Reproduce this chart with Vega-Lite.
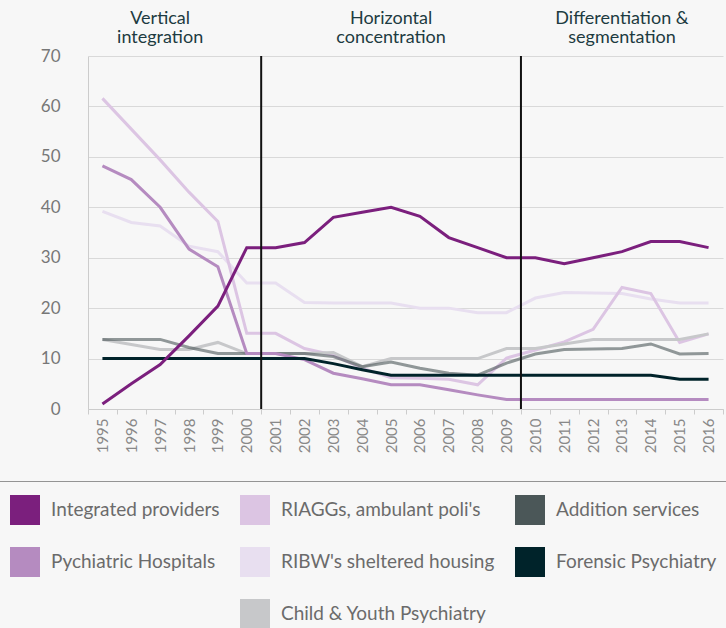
{
  "$schema": "https://vega.github.io/schema/vega-lite/v6.json",
  "width": 635,
  "height": 353,
  "autosize": "none",
  "padding": {"left": 88, "top": 56, "right": 3, "bottom": 219},
  "background": "#f7f7f7",
  "config": {"view": {"stroke": null}, "font": "Lato"},
  "datasets": {
    "series": [
      {"series": "RIBW's sheltered housing", "year": "1995", "value": 39.2},
      {"series": "RIBW's sheltered housing", "year": "1996", "value": 37},
      {"series": "RIBW's sheltered housing", "year": "1997", "value": 36.3},
      {"series": "RIBW's sheltered housing", "year": "1998", "value": 32.3},
      {"series": "RIBW's sheltered housing", "year": "1999", "value": 31.2},
      {"series": "RIBW's sheltered housing", "year": "2000", "value": 25},
      {"series": "RIBW's sheltered housing", "year": "2001", "value": 25},
      {"series": "RIBW's sheltered housing", "year": "2002", "value": 21.1},
      {"series": "RIBW's sheltered housing", "year": "2003", "value": 21},
      {"series": "RIBW's sheltered housing", "year": "2004", "value": 21},
      {"series": "RIBW's sheltered housing", "year": "2005", "value": 21},
      {"series": "RIBW's sheltered housing", "year": "2006", "value": 20},
      {"series": "RIBW's sheltered housing", "year": "2007", "value": 20},
      {"series": "RIBW's sheltered housing", "year": "2008", "value": 19.1},
      {"series": "RIBW's sheltered housing", "year": "2009", "value": 19.1},
      {"series": "RIBW's sheltered housing", "year": "2010", "value": 22},
      {"series": "RIBW's sheltered housing", "year": "2011", "value": 23.1},
      {"series": "RIBW's sheltered housing", "year": "2012", "value": 23},
      {"series": "RIBW's sheltered housing", "year": "2013", "value": 22.9},
      {"series": "RIBW's sheltered housing", "year": "2014", "value": 21.8},
      {"series": "RIBW's sheltered housing", "year": "2015", "value": 21},
      {"series": "RIBW's sheltered housing", "year": "2016", "value": 21},
      {"series": "RIAGGs, ambulant poli's", "year": "1995", "value": 61.6},
      {"series": "RIAGGs, ambulant poli's", "year": "1996", "value": 55.5},
      {"series": "RIAGGs, ambulant poli's", "year": "1997", "value": 49.4},
      {"series": "RIAGGs, ambulant poli's", "year": "1998", "value": 43},
      {"series": "RIAGGs, ambulant poli's", "year": "1999", "value": 37.2},
      {"series": "RIAGGs, ambulant poli's", "year": "2000", "value": 15},
      {"series": "RIAGGs, ambulant poli's", "year": "2001", "value": 15},
      {"series": "RIAGGs, ambulant poli's", "year": "2002", "value": 12},
      {"series": "RIAGGs, ambulant poli's", "year": "2003", "value": 10.7},
      {"series": "RIAGGs, ambulant poli's", "year": "2004", "value": 8.1},
      {"series": "RIAGGs, ambulant poli's", "year": "2005", "value": 6.2},
      {"series": "RIAGGs, ambulant poli's", "year": "2006", "value": 6.1},
      {"series": "RIAGGs, ambulant poli's", "year": "2007", "value": 5.9},
      {"series": "RIAGGs, ambulant poli's", "year": "2008", "value": 4.8},
      {"series": "RIAGGs, ambulant poli's", "year": "2009", "value": 10.1},
      {"series": "RIAGGs, ambulant poli's", "year": "2010", "value": 11.7},
      {"series": "RIAGGs, ambulant poli's", "year": "2011", "value": 13.3},
      {"series": "RIAGGs, ambulant poli's", "year": "2012", "value": 15.8},
      {"series": "RIAGGs, ambulant poli's", "year": "2013", "value": 24.1},
      {"series": "RIAGGs, ambulant poli's", "year": "2014", "value": 22.9},
      {"series": "RIAGGs, ambulant poli's", "year": "2015", "value": 13.2},
      {"series": "RIAGGs, ambulant poli's", "year": "2016", "value": 14.9},
      {"series": "Child & Youth Psychiatry", "year": "1995", "value": 13.8},
      {"series": "Child & Youth Psychiatry", "year": "1996", "value": 12.8},
      {"series": "Child & Youth Psychiatry", "year": "1997", "value": 11.8},
      {"series": "Child & Youth Psychiatry", "year": "1998", "value": 11.8},
      {"series": "Child & Youth Psychiatry", "year": "1999", "value": 13.2},
      {"series": "Child & Youth Psychiatry", "year": "2000", "value": 11},
      {"series": "Child & Youth Psychiatry", "year": "2001", "value": 11},
      {"series": "Child & Youth Psychiatry", "year": "2002", "value": 11},
      {"series": "Child & Youth Psychiatry", "year": "2003", "value": 11.2},
      {"series": "Child & Youth Psychiatry", "year": "2004", "value": 8.4},
      {"series": "Child & Youth Psychiatry", "year": "2005", "value": 10},
      {"series": "Child & Youth Psychiatry", "year": "2006", "value": 10},
      {"series": "Child & Youth Psychiatry", "year": "2007", "value": 10},
      {"series": "Child & Youth Psychiatry", "year": "2008", "value": 10},
      {"series": "Child & Youth Psychiatry", "year": "2009", "value": 12},
      {"series": "Child & Youth Psychiatry", "year": "2010", "value": 12},
      {"series": "Child & Youth Psychiatry", "year": "2011", "value": 12.9},
      {"series": "Child & Youth Psychiatry", "year": "2012", "value": 13.8},
      {"series": "Child & Youth Psychiatry", "year": "2013", "value": 13.8},
      {"series": "Child & Youth Psychiatry", "year": "2014", "value": 13.8},
      {"series": "Child & Youth Psychiatry", "year": "2015", "value": 13.8},
      {"series": "Child & Youth Psychiatry", "year": "2016", "value": 14.9},
      {"series": "Addition services", "year": "1995", "value": 13.8},
      {"series": "Addition services", "year": "1996", "value": 13.8},
      {"series": "Addition services", "year": "1997", "value": 13.8},
      {"series": "Addition services", "year": "1998", "value": 12.2},
      {"series": "Addition services", "year": "1999", "value": 11},
      {"series": "Addition services", "year": "2000", "value": 11},
      {"series": "Addition services", "year": "2001", "value": 11},
      {"series": "Addition services", "year": "2002", "value": 11},
      {"series": "Addition services", "year": "2003", "value": 10.4},
      {"series": "Addition services", "year": "2004", "value": 8.4},
      {"series": "Addition services", "year": "2005", "value": 9.3},
      {"series": "Addition services", "year": "2006", "value": 8.1},
      {"series": "Addition services", "year": "2007", "value": 7.1},
      {"series": "Addition services", "year": "2008", "value": 6.7},
      {"series": "Addition services", "year": "2009", "value": 9.1},
      {"series": "Addition services", "year": "2010", "value": 10.9},
      {"series": "Addition services", "year": "2011", "value": 11.8},
      {"series": "Addition services", "year": "2012", "value": 11.9},
      {"series": "Addition services", "year": "2013", "value": 12},
      {"series": "Addition services", "year": "2014", "value": 12.9},
      {"series": "Addition services", "year": "2015", "value": 10.9},
      {"series": "Addition services", "year": "2016", "value": 11},
      {"series": "Pychiatric Hospitals", "year": "1995", "value": 48.2},
      {"series": "Pychiatric Hospitals", "year": "1996", "value": 45.5},
      {"series": "Pychiatric Hospitals", "year": "1997", "value": 40},
      {"series": "Pychiatric Hospitals", "year": "1998", "value": 31.7},
      {"series": "Pychiatric Hospitals", "year": "1999", "value": 28.2},
      {"series": "Pychiatric Hospitals", "year": "2000", "value": 11},
      {"series": "Pychiatric Hospitals", "year": "2001", "value": 11},
      {"series": "Pychiatric Hospitals", "year": "2002", "value": 9.8},
      {"series": "Pychiatric Hospitals", "year": "2003", "value": 7.1},
      {"series": "Pychiatric Hospitals", "year": "2004", "value": 6},
      {"series": "Pychiatric Hospitals", "year": "2005", "value": 4.8},
      {"series": "Pychiatric Hospitals", "year": "2006", "value": 4.8},
      {"series": "Pychiatric Hospitals", "year": "2007", "value": 3.8},
      {"series": "Pychiatric Hospitals", "year": "2008", "value": 2.8},
      {"series": "Pychiatric Hospitals", "year": "2009", "value": 1.9},
      {"series": "Pychiatric Hospitals", "year": "2010", "value": 1.9},
      {"series": "Pychiatric Hospitals", "year": "2011", "value": 1.9},
      {"series": "Pychiatric Hospitals", "year": "2012", "value": 1.9},
      {"series": "Pychiatric Hospitals", "year": "2013", "value": 1.9},
      {"series": "Pychiatric Hospitals", "year": "2014", "value": 1.9},
      {"series": "Pychiatric Hospitals", "year": "2015", "value": 1.9},
      {"series": "Pychiatric Hospitals", "year": "2016", "value": 1.9},
      {"series": "Forensic Psychiatry", "year": "1995", "value": 10},
      {"series": "Forensic Psychiatry", "year": "1996", "value": 10},
      {"series": "Forensic Psychiatry", "year": "1997", "value": 10},
      {"series": "Forensic Psychiatry", "year": "1998", "value": 10},
      {"series": "Forensic Psychiatry", "year": "1999", "value": 10},
      {"series": "Forensic Psychiatry", "year": "2000", "value": 10},
      {"series": "Forensic Psychiatry", "year": "2001", "value": 10},
      {"series": "Forensic Psychiatry", "year": "2002", "value": 10},
      {"series": "Forensic Psychiatry", "year": "2003", "value": 9},
      {"series": "Forensic Psychiatry", "year": "2004", "value": 7.8},
      {"series": "Forensic Psychiatry", "year": "2005", "value": 6.7},
      {"series": "Forensic Psychiatry", "year": "2006", "value": 6.7},
      {"series": "Forensic Psychiatry", "year": "2007", "value": 6.7},
      {"series": "Forensic Psychiatry", "year": "2008", "value": 6.7},
      {"series": "Forensic Psychiatry", "year": "2009", "value": 6.7},
      {"series": "Forensic Psychiatry", "year": "2010", "value": 6.7},
      {"series": "Forensic Psychiatry", "year": "2011", "value": 6.7},
      {"series": "Forensic Psychiatry", "year": "2012", "value": 6.7},
      {"series": "Forensic Psychiatry", "year": "2013", "value": 6.7},
      {"series": "Forensic Psychiatry", "year": "2014", "value": 6.7},
      {"series": "Forensic Psychiatry", "year": "2015", "value": 5.9},
      {"series": "Forensic Psychiatry", "year": "2016", "value": 5.9},
      {"series": "Integrated providers", "year": "1995", "value": 1},
      {"series": "Integrated providers", "year": "1996", "value": 5},
      {"series": "Integrated providers", "year": "1997", "value": 8.8},
      {"series": "Integrated providers", "year": "1998", "value": 14.5},
      {"series": "Integrated providers", "year": "1999", "value": 20.4},
      {"series": "Integrated providers", "year": "2000", "value": 32},
      {"series": "Integrated providers", "year": "2001", "value": 32},
      {"series": "Integrated providers", "year": "2002", "value": 33},
      {"series": "Integrated providers", "year": "2003", "value": 38},
      {"series": "Integrated providers", "year": "2004", "value": 39},
      {"series": "Integrated providers", "year": "2005", "value": 40},
      {"series": "Integrated providers", "year": "2006", "value": 38.2},
      {"series": "Integrated providers", "year": "2007", "value": 34},
      {"series": "Integrated providers", "year": "2008", "value": 32},
      {"series": "Integrated providers", "year": "2009", "value": 30},
      {"series": "Integrated providers", "year": "2010", "value": 30},
      {"series": "Integrated providers", "year": "2011", "value": 28.8},
      {"series": "Integrated providers", "year": "2012", "value": 30},
      {"series": "Integrated providers", "year": "2013", "value": 31.2},
      {"series": "Integrated providers", "year": "2014", "value": 33.2},
      {"series": "Integrated providers", "year": "2015", "value": 33.2},
      {"series": "Integrated providers", "year": "2016", "value": 32}
    ],
    "phases": [
      {"boundary": "2000"},
      {"boundary": "2009"}
    ]
  },
  "layer": [
    {
      "data": {"name": "series"},
      "mark": {"type": "line", "strokeWidth": 3},
      "encoding": {
        "x": {
          "field": "year",
          "type": "ordinal",
          "bandPosition": 0.5,
          "scale": {"type": "band", "paddingInner": 0, "paddingOuter": 0},
          "axis": {
            "title": null,
            "labelAngle": -90,
            "labelAlign": "right",
            "labelBaseline": "middle",
            "tickBand": "extent",
            "tickSize": 5,
            "tickColor": "#cccccc",
            "domainColor": "#cccccc",
            "labelColor": "#888888",
            "labelFont": "Lato",
            "labelFontSize": 15,
            "labelPadding": 4,
            "grid": false
          }
        },
        "y": {
          "field": "value",
          "type": "quantitative",
          "scale": {"domain": [0, 70]},
          "axis": {
            "title": null,
            "values": [0, 10, 20, 30, 40, 50, 60, 70],
            "ticks": false,
            "labelPadding": 28,
            "labelFont": "Lato",
            "labelFontSize": 17,
            "labelColor": "#777777",
            "domainColor": "#cccccc",
            "gridColor": "#d9d9d9"
          }
        },
        "color": {
          "field": "series",
          "type": "nominal",
          "scale": {
            "domain": ["Integrated providers", "RIAGGs, ambulant poli's", "Addition services", "Pychiatric Hospitals", "RIBW's sheltered housing", "Forensic Psychiatry", " ", "Child & Youth Psychiatry"],
            "range": ["#7b1f7d", "#dcc5e3", "#4b5758", "#b58bc0", "#e8dff0", "#00232a", "transparent", "#c7c8ca"]
          },
          "legend": {
            "orient": "none",
            "direction": "horizontal",
            "legendX": -92,
            "legendY": 425,
            "padding": 14,
            "strokeColor": "#949494",
            "columns": 3,
            "title": null,
            "symbolType": "square",
            "symbolSize": 900,
            "symbolStrokeWidth": 0,
            "labelFont": "Lato",
            "labelFontSize": 19,
            "labelColor": "#6b6b6b",
            "labelOffset": 11,
            "labelLimit": 400,
            "rowPadding": 22,
            "columnPadding": 20,
            "encode": {
              "symbols": {
                "update": {
                  "fill": {"scale": "color", "field": "value"},
                  "fillOpacity": {"value": 1},
                  "strokeOpacity": {"value": 0}
                }
              }
            }
          }
        },
        "strokeOpacity": {
          "condition": {"test": "datum.series === 'Addition services'", "value": 0.6},
          "value": 1
        }
      }
    },
    {
      "data": {"name": "phases"},
      "mark": {"type": "rule", "color": "#111111", "strokeWidth": 2},
      "encoding": {
        "x": {
          "field": "boundary",
          "type": "ordinal",
          "bandPosition": 1,
          "scale": {
            "type": "band",
            "domain": ["1995", "1996", "1997", "1998", "1999", "2000", "2001", "2002", "2003", "2004", "2005", "2006", "2007", "2008", "2009", "2010", "2011", "2012", "2013", "2014", "2015", "2016"],
            "paddingInner": 0,
            "paddingOuter": 0
          },
          "axis": {
            "orient": "top",
            "title": null,
            "values": ["1997", "2005", "2013"],
            "labelExpr": "datum.value === '1997' ? ['Vertical', 'integration'] : datum.value === '2005' ? ['Horizontal', 'concentration'] : ['Differentiation &', 'segmentation']",
            "labelAngle": 0,
            "labelFont": "Lato",
            "labelFontSize": 18,
            "labelLineHeight": 19,
            "labelBaseline": "alphabetic",
            "labelColor": "#1d3b41",
            "labelPadding": 33,
            "ticks": false,
            "domain": false,
            "grid": false
          }
        }
      }
    }
  ],
  "resolve": {"scale": {"x": "independent"}}
}
